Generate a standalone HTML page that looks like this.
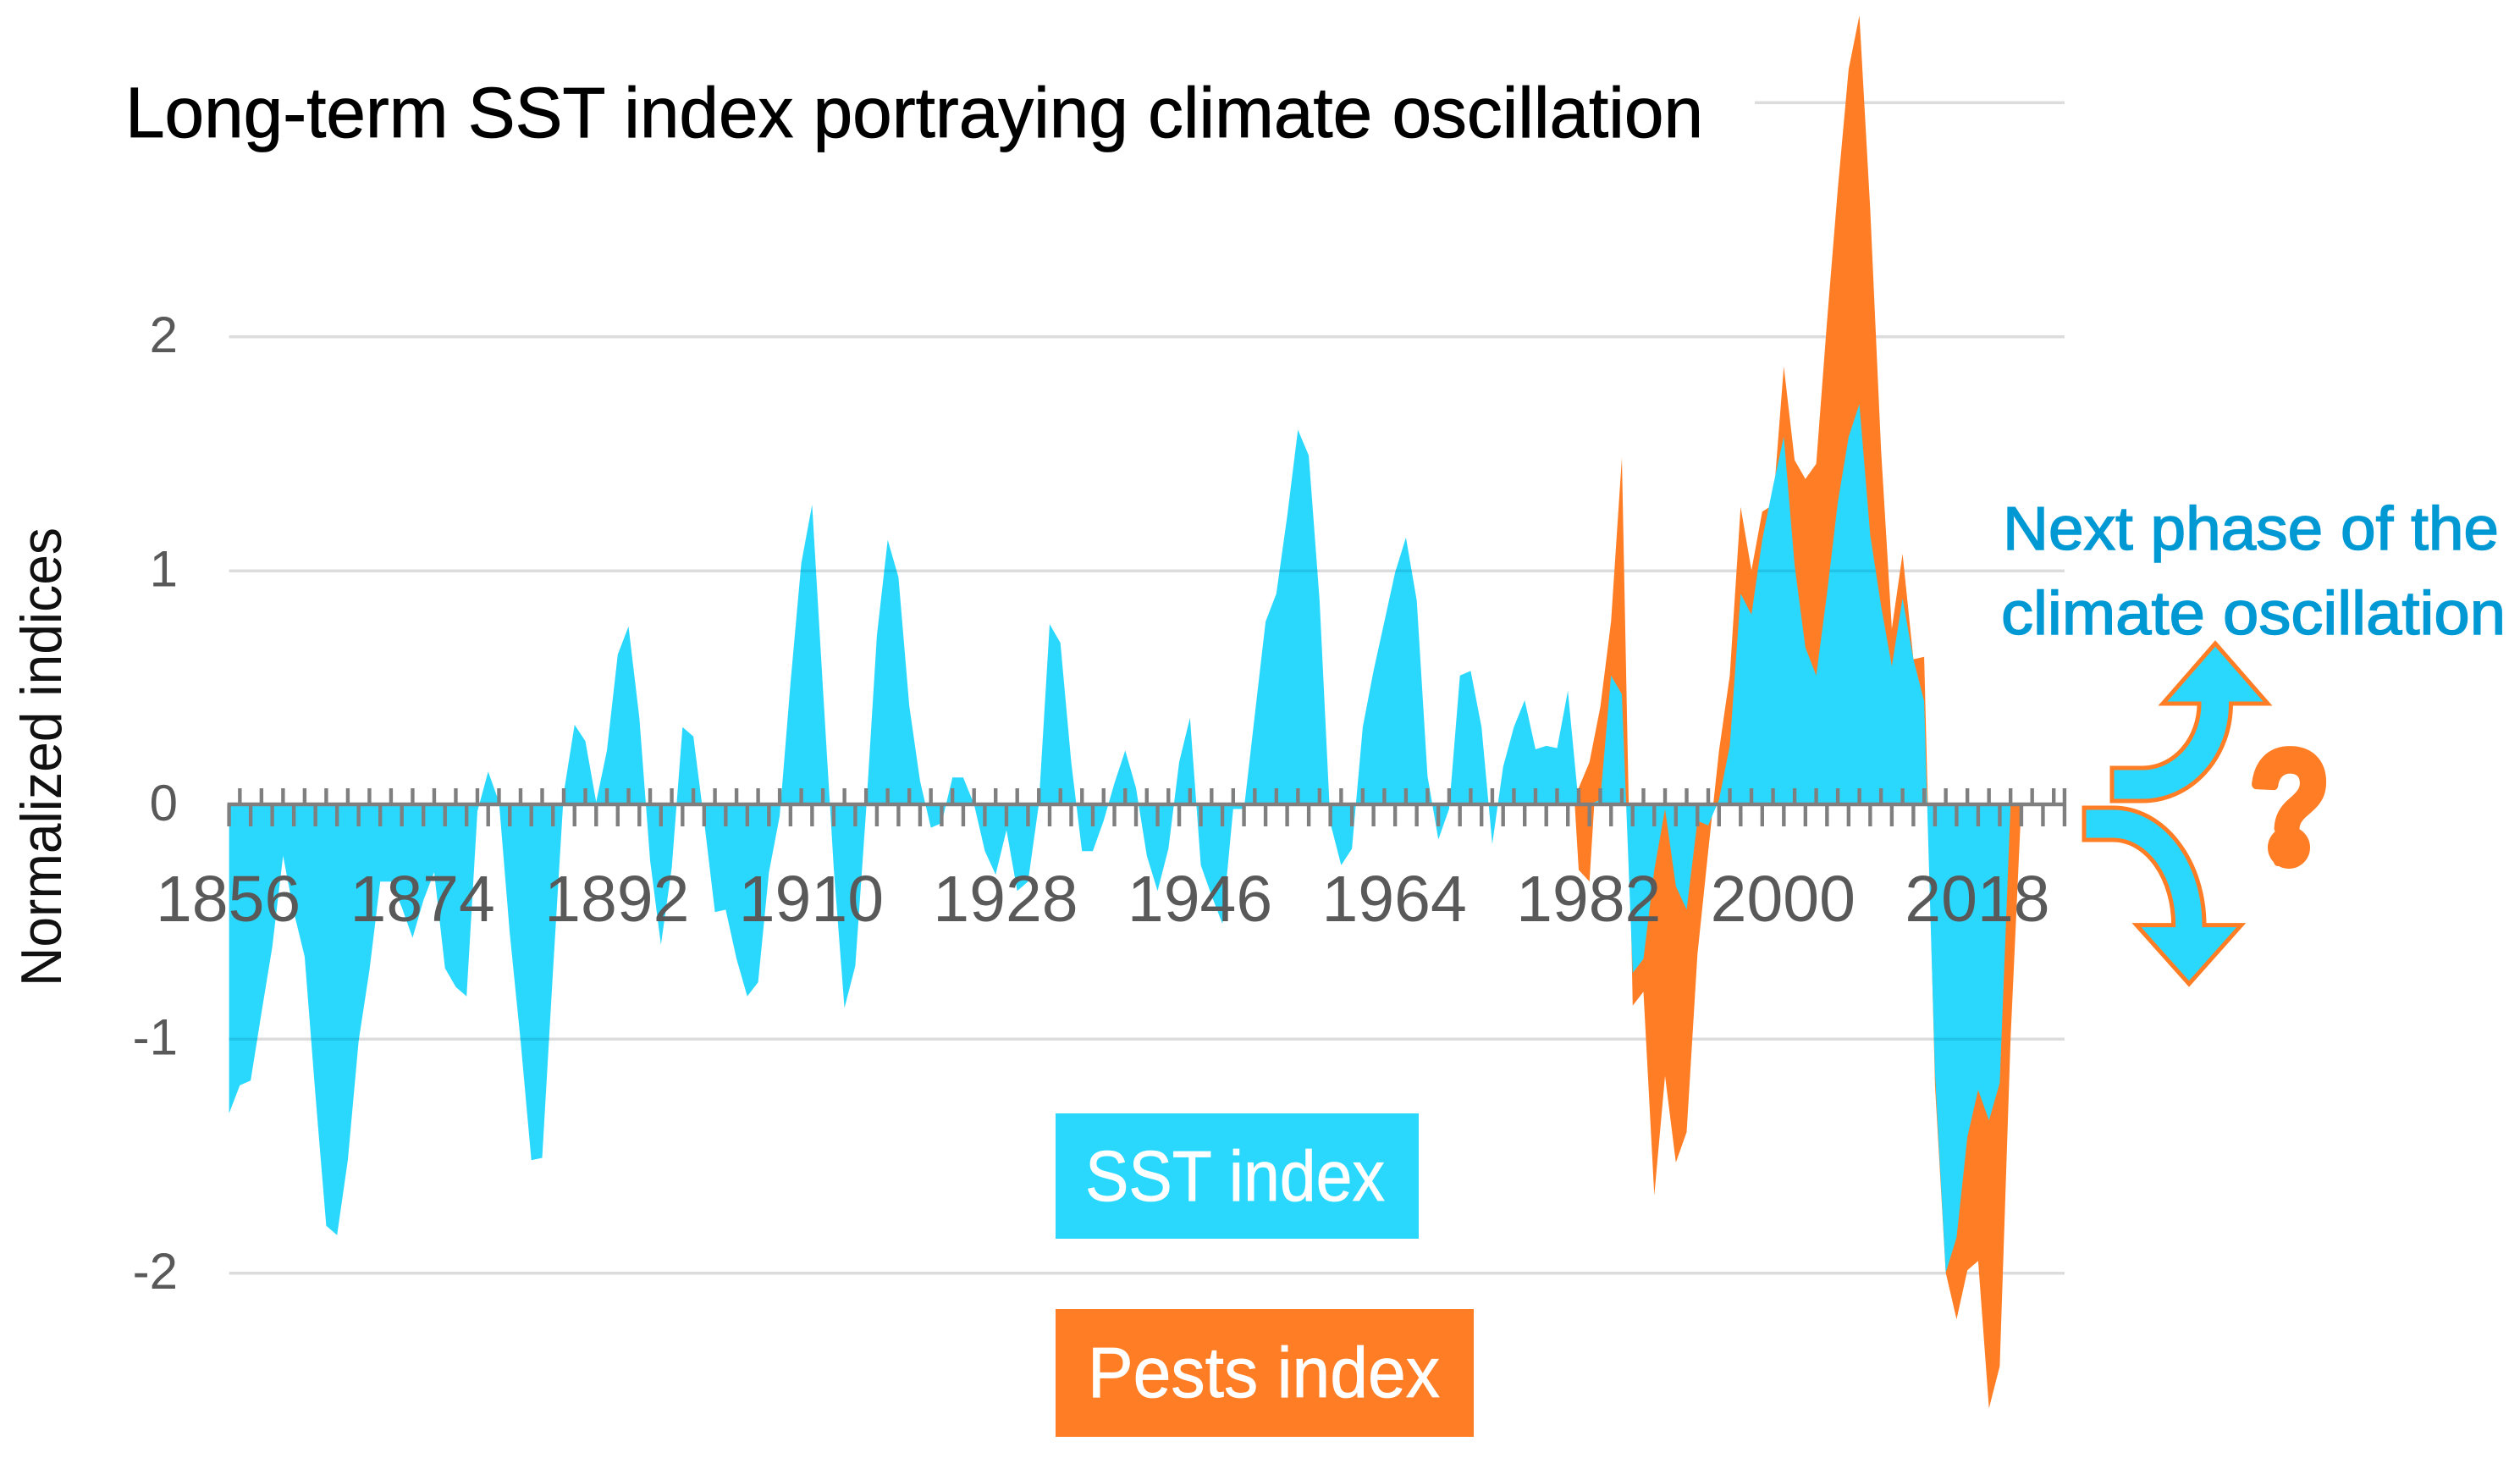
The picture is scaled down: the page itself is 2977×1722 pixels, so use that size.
<!DOCTYPE html>
<html lang="en">
<head>
<meta charset="utf-8">
<title>Long-term SST index portraying climate oscillation</title>
<style>
html,body{margin:0;padding:0;background:#fff;}
svg{display:block;font-family:"Liberation Sans",sans-serif;}
</style>
</head>
<body>
<svg id="chart" xmlns="http://www.w3.org/2000/svg" width="2977" height="1722" viewBox="0 0 2977 1722">
  <rect width="2977" height="1722" fill="#ffffff"/>
  <defs><clipPath id="sst-clip"><path id="sst-clip-path"/></clipPath></defs>
  <g id="grid"></g>
  <g id="areas"></g>
  <g id="grid-over" clip-path="url(#sst-clip)"></g>
  <g id="axis"></g>
  <g id="ylabels"></g>
  <g id="xlabels"></g>

  <text x="148" y="162" font-size="84" fill="#000" stroke="#000" stroke-width="0.8" textLength="1864" lengthAdjust="spacingAndGlyphs">Long-term SST index portraying climate oscillation</text>
  <text transform="translate(72,1165) rotate(-90)" font-size="68" fill="#111" textLength="542" lengthAdjust="spacingAndGlyphs">Normalized indices</text>

  <g>
    <rect x="1247" y="1315" width="429" height="148" fill="#2bd8fd"/>
    <text x="1282" y="1418" font-size="84" fill="#fff" stroke="#fff" stroke-width="0.8" textLength="354" lengthAdjust="spacingAndGlyphs">SST index</text>
  </g>
  <g>
    <rect x="1247" y="1546" width="494" height="151" fill="#ff7d24"/>
    <text x="1285" y="1650" font-size="84" fill="#fff" stroke="#fff" stroke-width="0.8" textLength="416" lengthAdjust="spacingAndGlyphs">Pests index</text>
  </g>

  <g fill="#0099d4" stroke="#0099d4" stroke-width="1.5" font-size="72">
    <text x="2366" y="649" textLength="586" lengthAdjust="spacingAndGlyphs">Next phase of the</text>
    <text x="2364" y="749" textLength="596" lengthAdjust="spacingAndGlyphs">climate oscillation</text>
  </g>

  <path fill="#2bd8fd" stroke="#ff7d24" stroke-width="5" stroke-linejoin="miter"
        d="M2495,907 L2531,907 A67,76 0 0 0 2598,831 L2555,831 L2617,760 L2679,831 L2635.5,831 A104.5,115 0 0 1 2531,946 L2495,946 Z"/>
  <path fill="#2bd8fd" stroke="#ff7d24" stroke-width="5" stroke-linejoin="miter"
        d="M2462,954 L2496.5,954 A107.5,138.6 0 0 1 2604,1092.6 L2647.7,1092.6 L2586,1162 L2524,1092.6 L2567.6,1092.6 A71,100.6 0 0 0 2496.5,992 L2462,992 Z"/>
  <text x="2658" y="1017" font-size="186" font-weight="700" fill="#ff7d24" stroke="#ff7d24" stroke-width="12" stroke-linejoin="round" textLength="94" lengthAdjust="spacingAndGlyphs">?</text>
  <circle cx="2704" cy="1001" r="25" fill="#ff7d24"/>
</svg>

<script>
const startYear = 1856;
const endYear = 2026;
const yTickValues = [-2, -1, 0, 1, 2];
const yTickLabels = ["-2", "-1", "0", "1", "2"];
const gridValues = [-2, -1, 1, 2];
const topGridValue = 3;
const xTickLabels = ["1856", "1874", "1892", "1910", "1928", "1946", "1964", "1982", "2000", "2018"];

const sstValues = [
  -1.32,-1.20,-1.18,-0.89,-0.61,-0.22,-0.46,-0.65,-1.24,-1.80,
  -1.84,-1.52,-1.01,-0.71,-0.33,-0.33,-0.44,-0.57,-0.41,-0.29,
  -0.70,-0.78,-0.82,-0.03,0.14,0.01,-0.55,-1.01,-1.52,-1.51,
  -0.71,0.05,0.34,0.27,0.01,0.23,0.64,0.76,0.37,-0.24,
  -0.60,-0.27,0.33,0.29,-0.07,-0.46,-0.45,-0.66,-0.82,-0.76,
  -0.29,-0.05,0.52,1.03,1.28,0.50,-0.27,-0.87,-0.69,-0.03,
  0.72,1.13,0.97,0.42,0.10,-0.10,-0.08,0.115,0.115,0.0,
  -0.20,-0.30,-0.11,-0.37,-0.33,0.0,0.77,0.69,0.18,-0.20,
  -0.20,-0.07,0.09,0.23,0.07,-0.22,-0.37,-0.19,0.18,0.37,
  -0.26,-0.39,-0.51,-0.02,-0.02,0.38,0.78,0.90,1.23,1.60,
  1.49,0.87,-0.08,-0.26,-0.19,0.33,0.57,0.78,0.99,1.14,
  0.87,0.12,-0.15,-0.02,0.55,0.57,0.33,-0.17,0.16,0.33,
  0.445,0.235,0.25,0.24,0.485,0,0,0.02,0.55,0.47,
  -0.72,-0.66,-0.28,-0.02,-0.35,-0.45,-0.07,-0.09,0.02,0.25,
  0.90,0.81,1.13,1.36,1.57,1.02,0.67,0.55,0.90,1.29,
  1.57,1.71,1.15,0.85,0.59,0.88,0.62,0.44,-1.15,-2.0,
  -1.85,-1.42,-1.22,-1.35,-1.19,0
];

const pestsStartYear = 1980;
const pestsValues = [
  0.485,-0.28,-0.33,0.415,0.78,1.48,-0.86,-0.80,-1.67,-1.16,
  -1.53,-1.40,-0.64,-0.20,0.23,0.55,1.27,1.00,1.25,1.28,
  1.87,1.47,1.39,1.455,2.06,2.63,3.14,3.37,2.54,1.52,
  0.75,1.07,0.62,0.63,-1.20,-2.00,-2.20,-1.99,-1.95,-2.58,
  -2.40,-1.00,0
];

const pestsUpperStartYear = 1981;
const pestsUpperValues = [0.07, 0.18, 0.415];

const SVGNS = "http://www.w3.org/2000/svg";
const xScale = function (year) { return 270.6 + (year - startYear) * 12.755; };
const yScale = function (value) { return 950 - value * 276.5; };

function areaPath(firstYear, values) {
  let d = "M" + xScale(firstYear).toFixed(1) + "," + yScale(0).toFixed(1);
  values.forEach(function (v, i) {
    d += " L" + xScale(firstYear + i).toFixed(1) + "," + yScale(v).toFixed(1);
  });
  d += " L" + xScale(firstYear + values.length - 1).toFixed(1) + "," + yScale(0).toFixed(1) + " Z";
  return d;
}

const gridG = document.getElementById("grid");
const gridOverG = document.getElementById("grid-over");
const areasG = document.getElementById("areas");
const axisG = document.getElementById("axis");
const ylabG = document.getElementById("ylabels");
const xlabG = document.getElementById("xlabels");

gridValues.concat([topGridValue]).forEach(function (v) {
  const left = v === topGridValue ? 2073 : xScale(startYear);
  const line = document.createElementNS(SVGNS, "line");
  
  
  line.setAttribute("x1", left);
  line.setAttribute("x2", xScale(endYear));
  line.setAttribute("y1", yScale(v) + 0.7);
  line.setAttribute("y2", yScale(v) + 0.7);
  line.setAttribute("stroke", "#dcdcdc");
  line.setAttribute("stroke-width", "3.5");
  gridG.appendChild(line);

  const over = document.createElementNS(SVGNS, "line");
  
  
  over.setAttribute("x1", left);
  over.setAttribute("x2", xScale(endYear));
  over.setAttribute("y1", yScale(v) + 0.7);
  over.setAttribute("y2", yScale(v) + 0.7);
  over.setAttribute("stroke", "#1fc4e6");
  over.setAttribute("stroke-width", "3.5");
  gridOverG.appendChild(over);
});

const pestsArea = document.createElementNS(SVGNS, "path");


pestsArea.setAttribute("d", areaPath(pestsStartYear, pestsValues));
pestsArea.setAttribute("fill", "#ff7d24");
areasG.appendChild(pestsArea);

const pestsUpperArea = document.createElementNS(SVGNS, "path");


pestsUpperArea.setAttribute("d", areaPath(pestsUpperStartYear, pestsUpperValues));
pestsUpperArea.setAttribute("fill", "#ff7d24");
areasG.appendChild(pestsUpperArea);

const sstArea = document.createElementNS(SVGNS, "path");


sstArea.setAttribute("d", areaPath(startYear, sstValues));
sstArea.setAttribute("fill", "#2bd8fd");
areasG.appendChild(sstArea);
document.getElementById("sst-clip-path").setAttribute("d", areaPath(startYear, sstValues));

const axisLine = document.createElementNS(SVGNS, "line");


axisLine.setAttribute("x1", xScale(startYear) - 2);
axisLine.setAttribute("x2", xScale(endYear) + 2);
axisLine.setAttribute("y1", yScale(0));
axisLine.setAttribute("y2", yScale(0));
axisLine.setAttribute("stroke", "#7f7f7f");
axisLine.setAttribute("stroke-width", "4.5");
axisG.appendChild(axisLine);

for (let year = startYear; year <= endYear; year++) {
  const odd = (year - startYear) % 2 === 1;
  const last = year === endYear;
  const tick = document.createElementNS(SVGNS, "line");
  
  
  tick.setAttribute("x1", xScale(year));
  tick.setAttribute("x2", xScale(year));
  tick.setAttribute("y1", odd || last ? yScale(0) - 19 : yScale(0));
  tick.setAttribute("y2", odd ? yScale(0) : yScale(0) + 26);
  tick.setAttribute("stroke", "#7f7f7f");
  tick.setAttribute("stroke-width", "4.4");
  axisG.appendChild(tick);
}

yTickValues.forEach(function (v, i) {
  const t = document.createElementNS(SVGNS, "text");
  
  
  t.setAttribute("x", 210);
  t.setAttribute("y", yScale(v) + 19);
  t.setAttribute("text-anchor", "end");
  t.setAttribute("font-size", "60");
  t.setAttribute("fill", "#595959");
  t.textContent = yTickLabels[i];
  ylabG.appendChild(t);
});

xTickLabels.forEach(function (label) {
  const t = document.createElementNS(SVGNS, "text");
  
  
  t.setAttribute("x", xScale(Number(label)) - 1);
  t.setAttribute("y", 1088);
  t.setAttribute("text-anchor", "middle");
  t.setAttribute("font-size", "77");
  t.setAttribute("fill", "#595959");
  t.textContent = label;
  xlabG.appendChild(t);
});
</script>
</body>
</html>
